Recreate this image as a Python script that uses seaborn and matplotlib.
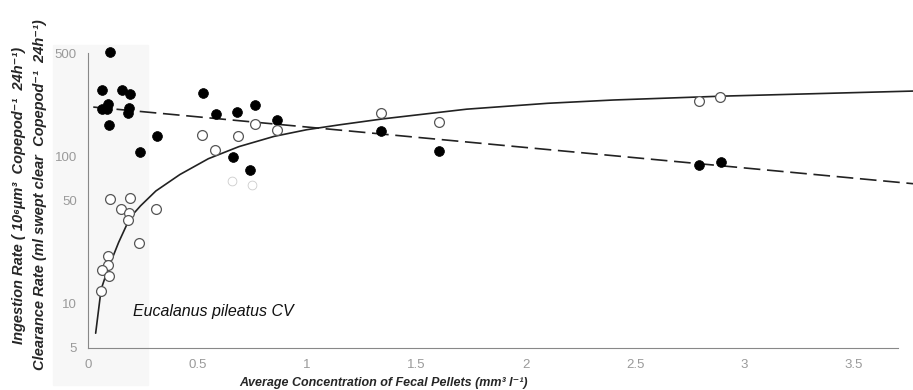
import numpy as np
import pandas as pd
import matplotlib
matplotlib.use("Agg")
import matplotlib.pyplot as plt
import seaborn as sns
from matplotlib.patches import Rectangle
from matplotlib.ticker import FixedLocator, NullFormatter

# clearance rate (filled circles)
clear_x = [0.10, 0.065, 0.154, 0.193, 0.093, 0.062, 0.085, 0.189, 0.181, 0.096,
           0.316, 0.236, 0.525, 0.583, 0.680, 0.763, 0.865, 0.662, 0.741,
           1.338, 1.604, 2.793, 2.892]
clear_y = [505, 280, 280, 262, 225, 208, 208, 211, 195, 162,
           137, 107, 268, 192, 200, 221, 175, 99, 81,
           148, 108, 86.5, 91]

# ingestion rate (open circles)
ingest_x = [0.099, 0.193, 0.152, 0.189, 0.184, 0.234, 0.091, 0.091, 0.062, 0.096,
            0.058, 0.311, 0.519, 0.686, 0.581, 0.761, 0.865, 1.338, 1.604,
            2.793, 2.889]
ingest_y = [51, 52, 44, 41, 36.6, 25.7, 21, 18.2, 17, 15.4,
            12.2, 44, 140, 137, 110, 164, 150, 197, 169,
            236, 252]

# faint, broken circles
faint_x = [0.66, 0.75]
faint_y = [68, 64]

# fitted curves
clear_fit_x = [0.024, 3.77]
clear_fit_y = [215, 65]
ingest_fit_x = [0.035, 0.06, 0.09, 0.115, 0.14, 0.18, 0.21, 0.24, 0.31, 0.42,
                0.55, 0.69, 0.85, 1.0, 1.15, 1.35, 1.73, 2.1, 2.4, 2.9, 3.77]
ingest_fit_y = [6.3, 12.5, 17, 21, 26, 35, 41, 46, 58, 75,
                96, 116, 136, 151, 163, 179, 208, 228, 240, 255, 276]

x_ticks = [0, 0.5, 1, 1.5, 2, 2.5, 3, 3.5]
x_labels = ["0", "0.5", "1", "1.5", "2", "2.5", "3", "3.5"]
y_ticks = [5, 10, 50, 100, 500]
y_minor = [6, 7, 8, 9, 20, 30, 40, 60, 70, 80, 90, 200, 300, 400]

sns.set_style("white")
plt.rcParams["font.family"] = ["Liberation Sans", "DejaVu Sans"]

fig = plt.figure(figsize=(9.13, 3.9), dpi=100)
fig.patches.append(Rectangle((53 / 913, 5 / 390), 95 / 913, 1 - 50 / 390,
                             transform=fig.transFigure, color="#f7f7f7", zorder=-5))
ax = fig.add_axes([88 / 913, 42 / 390, (913 - 88) / 913, (348 - 53) / 390])
ax.patch.set_alpha(0)

sns.lineplot(x=clear_fit_x, y=clear_fit_y, ax=ax, color="#222222", lw=1.2,
             linestyle=(0, (10, 4)))
sns.lineplot(x=ingest_fit_x, y=ingest_fit_y, ax=ax, color="#222222", lw=1.2)

sns.scatterplot(x=clear_x, y=clear_y, ax=ax, color="black", s=50,
                edgecolor="black", linewidth=0.5, zorder=3, clip_on=False)
sns.scatterplot(x=ingest_x, y=ingest_y, ax=ax, color="white", s=50,
                edgecolor="#555555", linewidth=0.9, zorder=3, clip_on=False)
sns.scatterplot(x=faint_x, y=faint_y, ax=ax, color="white", s=40,
                edgecolor="#cccccc", linewidth=0.6, zorder=3)

ax.set_yscale("log")
ax.set_xlim(0, 3.77)
ax.set_ylim(5, 500)

ax.set_xticks(x_ticks)
ax.set_xticklabels(x_labels)
ax.xaxis.set_minor_locator(FixedLocator([i / 10 for i in range(38)]))
ax.set_yticks(y_ticks)
ax.set_yticklabels([str(v) for v in y_ticks])
ax.yaxis.set_minor_locator(FixedLocator(y_minor))
ax.yaxis.set_minor_formatter(NullFormatter())

ax.tick_params(axis="both", which="major", direction="out", length=6, width=0.9,
               color="#555555", labelcolor="#9a9a9a", labelsize=9.5, pad=2)
ax.tick_params(axis="both", which="minor", direction="out", length=4, width=0.8,
               color="#555555")

sns.despine(ax=ax)
ax.spines["left"].set_color("#888888")
ax.spines["bottom"].set_color("#888888")
ax.spines["bottom"].set_bounds(0, 3.7)

ax.text(0.205, 8.9, "Eucalanus pileatus CV", fontsize=11.5, fontstyle="italic",
        color="#111111", va="center")

fig.text(383 / 913, 1 / 390, "Average Concentration of Fecal Pellets (mm³ l⁻¹)",
         ha="center", va="bottom", fontsize=9, fontstyle="italic", fontweight="bold")
fig.text(19 / 913, 0.5, "Ingestion Rate ( 10⁶µm³  Copepod⁻¹  24h⁻¹)",
         rotation=90, ha="center", va="center", fontsize=10.5,
         fontstyle="italic", fontweight="bold")
fig.text(40 / 913, 0.5, "Clearance Rate (ml swept clear  Copepod⁻¹  24h⁻¹)",
         rotation=90, ha="center", va="center", fontsize=10.5,
         fontstyle="italic", fontweight="bold")

fig.savefig("out.png", dpi=100)
